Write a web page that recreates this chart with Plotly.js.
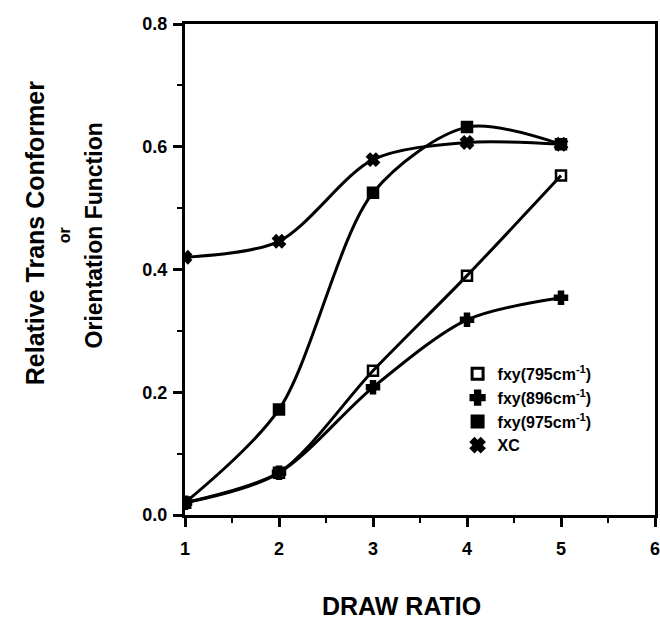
<!DOCTYPE html>
<html>
<head>
<meta charset="utf-8">
<script src="https://cdn.plot.ly/plotly-3.0.1.min.js"></script>
<style>html,body{margin:0;padding:0;background:#fff;}#chart{width:660px;height:627px;}</style>
</head>
<body>
<div id="chart"></div>
<script>
const drawRatio = [1, 2, 3, 4, 5];
const fxy795 = [0.02, 0.069, 0.235, 0.39, 0.553];
const fxy896 = [0.02, 0.069, 0.208, 0.318, 0.354];
const fxy975 = [0.02, 0.172, 0.525, 0.632, 0.604];
const xc = [0.42, 0.446, 0.579, 0.607, 0.604];
const seriesNames = ['fxy(795cm<sup>-1</sup>)', 'fxy(896cm<sup>-1</sup>)', 'fxy(975cm<sup>-1</sup>)', 'XC'];
const yTicks = [0, 0.2, 0.4, 0.6, 0.8];
const xTicks = [1, 2, 3, 4, 5, 6];

const FONT = 'Liberation Sans, Arial, Helvetica, sans-serif';
const symbols = ['square-open', 'cross', 'square', 'x'];
const series = [fxy795, fxy896, fxy975, xc];
const data = [];
series.forEach((y, i) => {
  data.push({
    x: drawRatio, y: y, name: seriesNames[i], type: 'scatter', mode: 'lines+markers', showlegend: false,
    line: {color: '#000', width: 3, shape: 'spline', smoothing: 0.85},
    marker: {symbol: symbols[i], size: 10, color: '#000', line: {color: '#000', width: 2.5}}
  });
});
series.forEach((y, i) => {
  data.push({
    x: [null], y: [null], name: '<b>' + seriesNames[i] + '</b>', type: 'scatter', mode: 'markers', showlegend: true,
    marker: {symbol: symbols[i], size: 11, color: '#000', line: {color: '#000', width: 3}}
  });
});
const layout = {
  width: 660, height: 627,
  margin: {l: 185, r: 5, t: 24, b: 112},
  paper_bgcolor: '#fff', plot_bgcolor: '#fff',
  showlegend: true,
  legend: {x: 0.58, y: 0.322, xanchor: 'left', yanchor: 'top', bgcolor: 'rgba(0,0,0,0)',
    font: {family: FONT, size: 16, color: '#000'}, tracegroupgap: 0, itemwidth: 30},
  font: {family: FONT, color: '#000'},
  xaxis: {
    range: [1, 6], tickvals: xTicks, ticktext: xTicks.map(v => '<b>' + v + '</b>'),
    showgrid: false, zeroline: false, showline: true, linewidth: 3, linecolor: '#000', mirror: true,
    ticks: 'outside', ticklen: 9, tickwidth: 3, tickcolor: '#000', ticklabelstandoff: 6,
    ticklabeloverflow: 'allow',
    minor: {ticks: 'outside', dtick: 0.5, ticklen: 5, tickwidth: 2, tickcolor: '#000'},
    tickfont: {family: FONT, size: 18, color: '#000'}
  },
  yaxis: {
    range: [0, 0.8], tickvals: yTicks, ticktext: yTicks.map(v => '<b>' + v.toFixed(1) + '</b>'),
    showgrid: false, zeroline: false, showline: true, linewidth: 3, linecolor: '#000', mirror: true,
    ticks: 'outside', ticklen: 9, tickwidth: 3, tickcolor: '#000', ticklabelstandoff: 2,
    ticklabeloverflow: 'allow',
    minor: {ticks: 'outside', dtick: 0.1, ticklen: 5, tickwidth: 2, tickcolor: '#000'},
    tickfont: {family: FONT, size: 18, color: '#000'}
  },
  annotations: [
    {text: '<b>Relative Trans Conformer</b>', xref: 'paper', yref: 'paper', x: -0.32, y: 0.575,
     xanchor: 'center', yanchor: 'middle', textangle: -90, showarrow: false,
     font: {family: FONT, size: 25, color: '#000'}},
    {text: '<b>or</b>', xref: 'paper', yref: 'paper', x: -0.257, y: 0.57,
     xanchor: 'center', yanchor: 'middle', textangle: -90, showarrow: false,
     font: {family: FONT, size: 16, color: '#000'}},
    {text: '<b>Orientation Function</b>', xref: 'paper', yref: 'paper', x: -0.193, y: 0.57,
     xanchor: 'center', yanchor: 'middle', textangle: -90, showarrow: false,
     font: {family: FONT, size: 23, color: '#000'}},
    {text: '<b>DRAW RATIO</b>', xref: 'paper', yref: 'paper', x: 0.46, y: -0.185,
     xanchor: 'center', yanchor: 'middle', showarrow: false,
     font: {family: FONT, size: 25, color: '#000'}}
  ]
};
Plotly.newPlot('chart', data, layout, {displayModeBar: false, staticPlot: true});
</script>
</body>
</html>
